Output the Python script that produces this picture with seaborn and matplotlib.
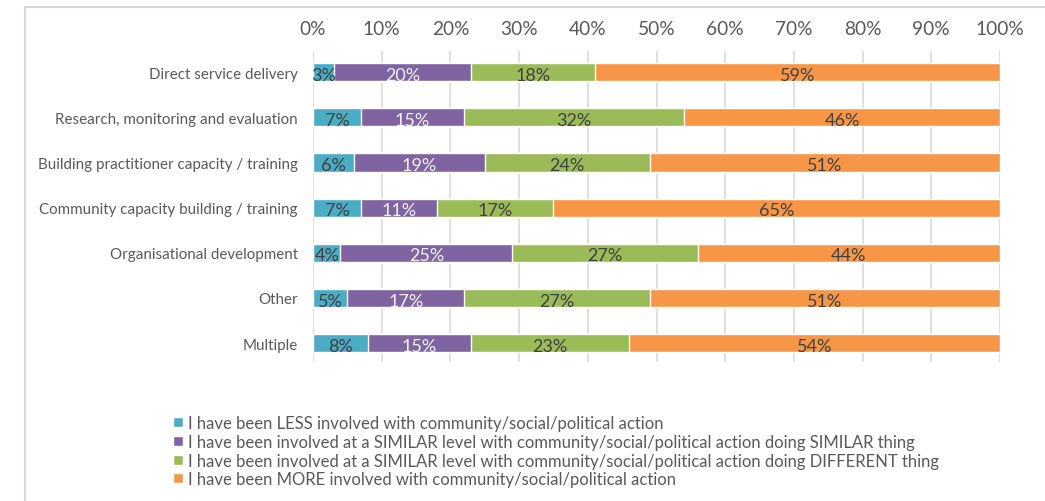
import matplotlib
matplotlib.use("Agg")
import matplotlib.pyplot as plt
from matplotlib.patches import Rectangle
import seaborn as sns
import numpy as np

categories = [
    "Direct service delivery",
    "Research, monitoring and evaluation",
    "Building practitioner capacity / training",
    "Community capacity building / training",
    "Organisational development",
    "Other",
    "Multiple",
]
less_involved = [3, 7, 6, 7, 4, 5, 8]
similar_same = [20, 15, 19, 11, 25, 17, 15]
similar_different = [18, 32, 24, 17, 27, 27, 23]
more_involved = [59, 46, 51, 65, 44, 51, 54]

series_names = [
    "I have been LESS involved with community/social/political action",
    "I have been involved at a SIMILAR level with community/social/political action doing SIMILAR thing",
    "I have been involved at a SIMILAR level with community/social/political action doing DIFFERENT thing",
    "I have been MORE involved with community/social/political action",
]
series_values = [less_involved, similar_same, similar_different, more_involved]
series_colors = ["#4BACC6", "#8064A2", "#9BBB59", "#F79646"]
label_colors = ["#404040", "#F2F2F2", "#404040", "#404040"]
tick_values = [0, 10, 20, 30, 40, 50, 60, 70, 80, 90, 100]

sns.set_theme(style="white")
plt.rcParams["font.family"] = ["Lato", "DejaVu Sans"]

fig = plt.figure(figsize=(10.45, 5.02), dpi=100)
ax = fig.add_axes([313 / 1045, 139 / 502, 687 / 1045, 311 / 502])

vals = np.array(series_values, dtype=float)
cum = np.cumsum(vals, axis=0)

# Stacked bars: draw cumulative totals from the outermost layer inward
for i in reversed(range(len(series_values))):
    sns.barplot(x=cum[i], y=categories, orient="h", color=series_colors[i],
                width=0.4, saturation=1, ax=ax, label=series_names[i], legend=False)

# Segment value labels
for i in range(len(series_values)):
    for j, cat in enumerate(categories):
        v = vals[i, j]
        ax.text(cum[i, j] - v / 2, j + 0.06, f"{int(v)}%", ha="center", va="center",
                fontsize=13, color=label_colors[i])

ax.set_xlim(0, 100)
ax.set_ylim(6.42, -0.47)
ax.set_xticks(tick_values)
ax.set_xticklabels([f"{t}%" for t in tick_values], fontsize=13.8, color="#595959")
ax.xaxis.tick_top()
ax.tick_params(axis="x", length=0, pad=10)
ax.tick_params(axis="y", length=0, pad=11, labelsize=10.9, labelcolor="#595959")
ax.set_xlabel("")
ax.set_ylabel("")
for s in ax.spines.values():
    s.set_visible(False)
ax.grid(axis="x", color="#D9D9D9", linewidth=1.2)
ax.set_axisbelow(True)

# Legend in original series order
handles = [Rectangle((0, 0), 1, 1, facecolor=c) for c in series_colors]
leg = fig.legend(handles, series_names, loc="upper left",
                 bbox_to_anchor=(165 / 1045, 1 - 408 / 502), frameon=False,
                 fontsize=12.0, handlelength=0.55, handleheight=0.55,
                 handletextpad=0.3, labelspacing=0.16, borderpad=0)
for t in leg.get_texts():
    t.set_color("#595959")

# Chart-area frame
fig.patches.append(Rectangle((25 / 1045, -0.1), 1.2, 1 - 8 / 502 + 0.1,
                             transform=fig.transFigure, fill=False,
                             edgecolor="#D9D9D9", linewidth=1.5))

fig.savefig("out.png", dpi=100)
